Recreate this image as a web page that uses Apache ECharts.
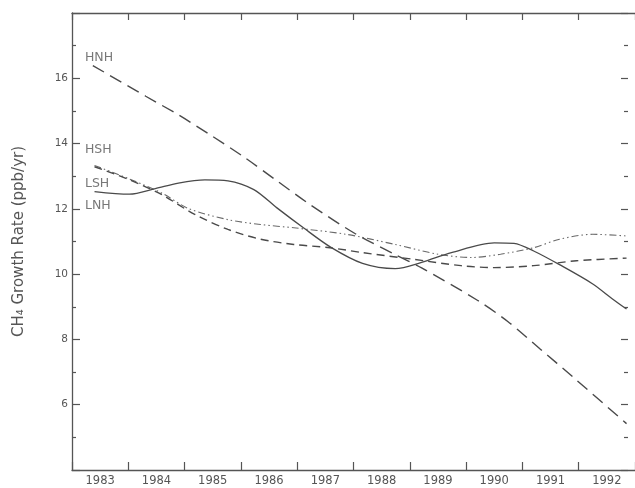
<!DOCTYPE html>
<html>
<head>
<meta charset="utf-8">
<script src="https://cdn.jsdelivr.net/npm/echarts@6/dist/echarts.min.js"></script>
<style>
  html, body { margin: 0; padding: 0; background: #fff; }
  #chart { width: 635px; height: 488px; }
</style>
</head>
<body>
<div id="chart"></div>
<script>
// year labels shown between the ticks
var yearLabels = ['1983', '1984', '1985', '1986', '1987', '1988', '1989', '1990', '1991', '1992']

// curves: [year, ppb/yr]
var hnh = [
  [1983.37, 16.39], [1984.31, 15.45], [1984.89, 14.88], [1985.47, 14.25],
  [1986.06, 13.58], [1986.64, 12.86], [1987.23, 12.13], [1988.04, 11.23],
  [1988.74, 10.6], [1989.21, 10.19], [1990.2, 9.2], [1990.74, 8.55],
  [1991.32, 7.7], [1991.91, 6.83], [1992.85, 5.42]
]
var hsh = [
  [1983.4, 13.33], [1984.0, 12.93], [1984.6, 12.48], [1985.07, 12.01],
  [1985.77, 11.67], [1986.35, 11.52], [1986.94, 11.42], [1987.87, 11.22],
  [1988.74, 10.91], [1989.5, 10.61], [1990.09, 10.51], [1990.61, 10.61],
  [1991.2, 10.81], [1991.66, 11.07], [1992.25, 11.22], [1992.85, 11.17]
]
var lsh = [
  [1983.4, 13.29], [1984.02, 12.89], [1984.6, 12.43], [1985.18, 11.83],
  [1985.77, 11.37], [1986.35, 11.07], [1986.94, 10.91], [1987.58, 10.81],
  [1988.16, 10.66], [1989.04, 10.46], [1989.91, 10.26], [1990.5, 10.2],
  [1991.2, 10.26], [1991.96, 10.41], [1992.85, 10.49]
]
var lnh = [
  [1983.4, 12.53], [1984.02, 12.45], [1984.48, 12.62], [1984.89, 12.79],
  [1985.36, 12.89], [1985.77, 12.86], [1986.23, 12.59], [1986.64, 12.03],
  [1987.11, 11.42], [1987.6, 10.82], [1988.16, 10.33], [1988.74, 10.17],
  [1989.21, 10.36], [1989.74, 10.66], [1990.5, 10.96], [1990.85, 10.94],
  [1991.2, 10.71], [1991.66, 10.29], [1992.25, 9.7], [1992.6, 9.24],
  [1992.85, 8.93]
]
// curve names written at the left of the plot
var curveNames = ['HNH', 'HSH', 'LSH', 'LNH']
var nameValues = [16.64, 13.81, 12.78, 12.11]

var ink = '#555'
var font = 'DejaVu Sans'

var chart = echarts.init(document.getElementById('chart'))

function lineSeries (data, dash, width, color) {
  return {
    type: 'line',
    xAxisIndex: 0,
    yAxisIndex: 0,
    data: data,
    smooth: 0.3,
    symbol: 'none',
    lineStyle: { color: color, width: width, type: dash }
  }
}

var option = {
  animation: false,
  backgroundColor: '#fff',
  grid: { left: 72, right: -8, top: 13, bottom: 18, containLabel: false },
  xAxis: [
    {
      type: 'value',
      position: 'bottom',
      min: 1983,
      max: 1993,
      interval: 1,
      axisLine: { show: true, lineStyle: { color: ink, width: 1.3 } },
      axisTick: { show: true, inside: true, length: 8, lineStyle: { color: ink, width: 1.2 } },
      axisLabel: { show: false },
      splitLine: { show: false }
    },
    {
      type: 'category',
      position: 'bottom',
      data: yearLabels,
      boundaryGap: true,
      axisLine: { show: false },
      axisTick: { show: false },
      axisLabel: { color: ink, fontFamily: font, fontSize: 11.5, margin: 5 },
      splitLine: { show: false }
    },
    {
      type: 'value',
      position: 'top',
      min: 1983,
      max: 1993,
      interval: 1,
      axisLine: { show: true, lineStyle: { color: ink, width: 1.3 } },
      axisTick: { show: true, inside: true, length: 7, lineStyle: { color: ink, width: 1.2 } },
      axisLabel: { show: false },
      splitLine: { show: false }
    }
  ],
  yAxis: [
    {
      type: 'value',
      position: 'left',
      min: 4,
      max: 18,
      interval: 2,
      name: 'CH₄ Growth Rate (ppb/yr)',
      nameLocation: 'middle',
      nameGap: 45,
      nameTextStyle: { color: ink, fontFamily: font, fontSize: 15 },
      axisLine: { show: true, lineStyle: { color: ink, width: 1.3 } },
      axisTick: { show: true, inside: true, length: 8, lineStyle: { color: ink, width: 1.2 } },
      minorTick: { show: true, splitNumber: 2, length: 4, lineStyle: { color: ink, width: 1.2 } },
      axisLabel: { color: ink, fontFamily: font, fontSize: 10.5, margin: 4, showMinLabel: false, showMaxLabel: false },
      splitLine: { show: false }
    },
    {
      type: 'value',
      position: 'right',
      offset: -7,
      min: 4,
      max: 18,
      interval: 2,
      axisLine: { show: false },
      axisTick: { show: true, inside: true, length: 7, lineStyle: { color: ink, width: 1.2 } },
      minorTick: { show: true, splitNumber: 2, length: 4, lineStyle: { color: ink, width: 1.2 } },
      axisLabel: { show: false },
      splitLine: { show: false }
    }
  ],
  series: [
    lineSeries(hnh, [13, 7], 1.4, '#4a4a4a'),
    lineSeries(hsh, [7, 3, 1.5, 3, 1.5, 3], 1.1, '#6a6a6a'),
    lineSeries(lsh, [8, 5], 1.4, '#4a4a4a'),
    lineSeries(lnh, 'solid', 1.3, '#4a4a4a'),
    {
      type: 'scatter',
      xAxisIndex: 0,
      yAxisIndex: 0,
      symbolSize: 0,
      data: curveNames.map(function (n, i) { return [1983.23, nameValues[i], n] }),
      label: {
        show: true,
        position: 'right',
        distance: 0,
        color: ink,
        fontFamily: font,
        fontSize: 12.5,
        formatter: function (p) { return p.value[2] }
      }
    }
  ]
}

chart.setOption(option)
</script>
</body>
</html>
